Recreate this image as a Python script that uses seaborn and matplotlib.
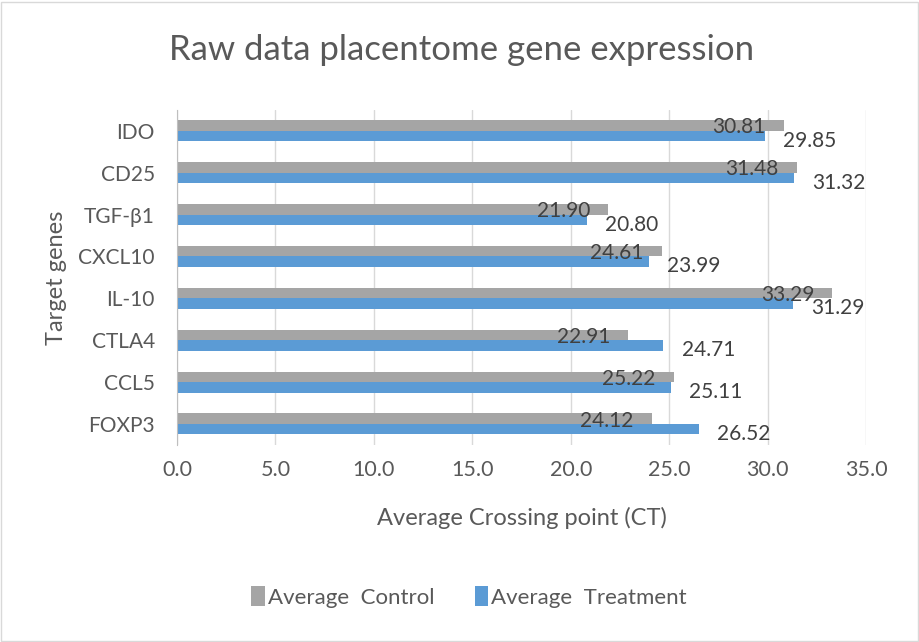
import pandas as pd
import numpy as np
import matplotlib.pyplot as plt
import seaborn as sns

# data
genes = ['IDO', 'CD25', 'TGF-β1', 'CXCL10', 'IL-10', 'CTLA4', 'CCL5', 'FOXP3']
control = [30.81, 31.48, 21.90, 24.61, 33.29, 22.91, 25.22, 24.12]
treatment = [29.85, 31.32, 20.80, 23.99, 31.29, 24.71, 25.11, 26.52]
series = ['Average  Control', 'Average  Treatment']
xticks = [0, 5, 10, 15, 20, 25, 30, 35]

df = pd.DataFrame({
    'gene': genes * 2,
    'value': control + treatment,
    'series': [series[0]] * len(genes) + [series[1]] * len(genes),
})

sns.set_style('white')
plt.rcParams['font.family'] = ['Lato', 'DejaVu Sans']
txt = '#595959'

fig = plt.figure(figsize=(9.2, 6.42), dpi=100)
ax = fig.add_axes([0.1924, 0.307, 0.749, 0.522])

sns.barplot(data=df, y='gene', x='value', hue='series', order=genes,
            hue_order=series, palette=['#a5a5a5', '#5b9bd5'], orient='h',
            width=0.5, saturation=1, linewidth=0, ax=ax, legend=True)

# value labels: control inside end, treatment outside end
for cont, dy, ha, dx in [(ax.containers[0], 0, 'right', -13), (ax.containers[1], -2, 'left', 13)]:
    for bar in cont:
        w = bar.get_width()
        yc = bar.get_y() + bar.get_height() / 2
        ax.annotate(f'{w:.2f}', (w, yc), xytext=(dx, dy), textcoords='offset points',
                    ha=ha, va='center_baseline', fontsize=15, color='#404040')

ax.set_xlim(0, 35)
ax.set_xticks(xticks)
ax.set_xticklabels([f'{t:.1f}' for t in xticks], fontsize=15.5, color=txt)
ax.tick_params(axis='x', length=0, pad=11)
ax.tick_params(axis='y', labelsize=15, labelcolor=txt, length=0, pad=16)
ax.set_yticks(np.arange(len(genes) + 1) - 0.5, minor=True)
ax.tick_params(axis='y', which='minor', length=5, color='#bfbfbf', direction='out')
ax.set_ylim(len(genes) - 0.5, -0.5)
ax.grid(axis='x', color='#d9d9d9', lw=1)
ax.set_axisbelow(True)
for s in ['top', 'right', 'bottom']:
    ax.spines[s].set_visible(False)
ax.spines['left'].set_color('#bfbfbf')

ax.set_xlabel('Average Crossing point (CT)', fontsize=17, color=txt, labelpad=19)
ax.set_ylabel('Target genes', fontsize=17, color=txt, labelpad=8)
fig.text(0.502, 0.922, 'Raw data placentome gene expression', ha='center', va='center',
         fontsize=25, color=txt)

handles, labels = ax.get_legend_handles_labels()
ax.legend_.remove()
fig.legend(handles, labels, loc='center', bbox_to_anchor=(0.51, 0.07), ncol=2,
           frameon=False, fontsize=16, handlelength=0.6, handleheight=1.0,
           handletextpad=0.15, columnspacing=1.8, labelcolor=txt)

fig.add_artist(plt.Rectangle((0.001, 0.002), 0.997, 0.995, transform=fig.transFigure,
                             fill=False, edgecolor='#d9d9d9', lw=1))

fig.savefig('out.png', dpi=100)
